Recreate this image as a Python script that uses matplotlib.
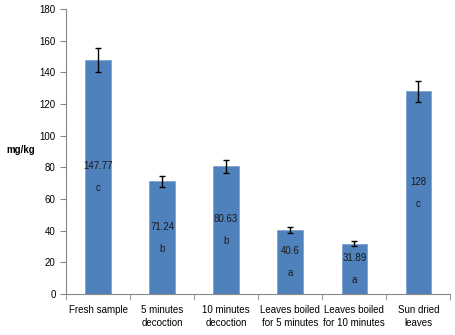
import matplotlib.pyplot as plt
import numpy as np

categories = ["Fresh sample", "5 minutes\ndecoction", "10 minutes\ndecoction",
              "Leaves boiled\nfor 5 minutes", "Leaves boiled\nfor 10 minutes", "Sun dried\nleaves"]
values = [147.77, 71.24, 80.63, 40.6, 31.89, 128]
errors = [7.4, 3.5, 4.0, 2.0, 1.5, 6.5]
letters = ["c", "b", "b", "a", "a", "c"]

plt.rcParams['font.family'] = ['Liberation Sans', 'DejaVu Sans']

fig = plt.figure(figsize=(4.55, 3.35), dpi=100)
ax = fig.add_axes([0.145, 0.122, 0.845, 0.851])

x = np.arange(len(values))
ax.bar(x, values, width=0.4, color='#4F81BD', edgecolor='#7FA3D3', linewidth=0.6,
       yerr=errors, capsize=2.5, error_kw=dict(elinewidth=1, ecolor='black', capthick=1))

for xi, v, l in zip(x, values, letters):
    ax.annotate(str(v), (xi, v / 2), xytext=(0, 8), textcoords='offset points',
                ha='center', va='center', fontsize=7, color='#1a1a1a')
    ax.annotate(l, (xi, v / 2), xytext=(0, -8), textcoords='offset points',
                ha='center', va='center', fontsize=7, color='#1a1a1a')

ax.set_xlim(-0.5, 5.5)
ax.set_ylim(0, 180)
ax.set_yticks(range(0, 181, 20))
ax.set_xticks(x)
ax.set_xticklabels(categories, fontsize=7, linespacing=1.45)
ax.set_xticks(np.arange(-0.5, 6, 1), minor=True)
ax.tick_params(axis='x', which='major', length=0, pad=7.5)
ax.tick_params(axis='x', which='minor', length=4, color='#888888')
ax.tick_params(axis='y', labelsize=7, length=4, color='#888888')

for s in ['top', 'right']:
    ax.spines[s].set_visible(False)
for s in ['left', 'bottom']:
    ax.spines[s].set_color('#888888')
    ax.spines[s].set_linewidth(0.8)

fig.text(0.045, 0.552, "mg/kg", fontsize=7, fontweight='bold', ha='center', va='center')

fig.savefig("out.png", dpi=100)
